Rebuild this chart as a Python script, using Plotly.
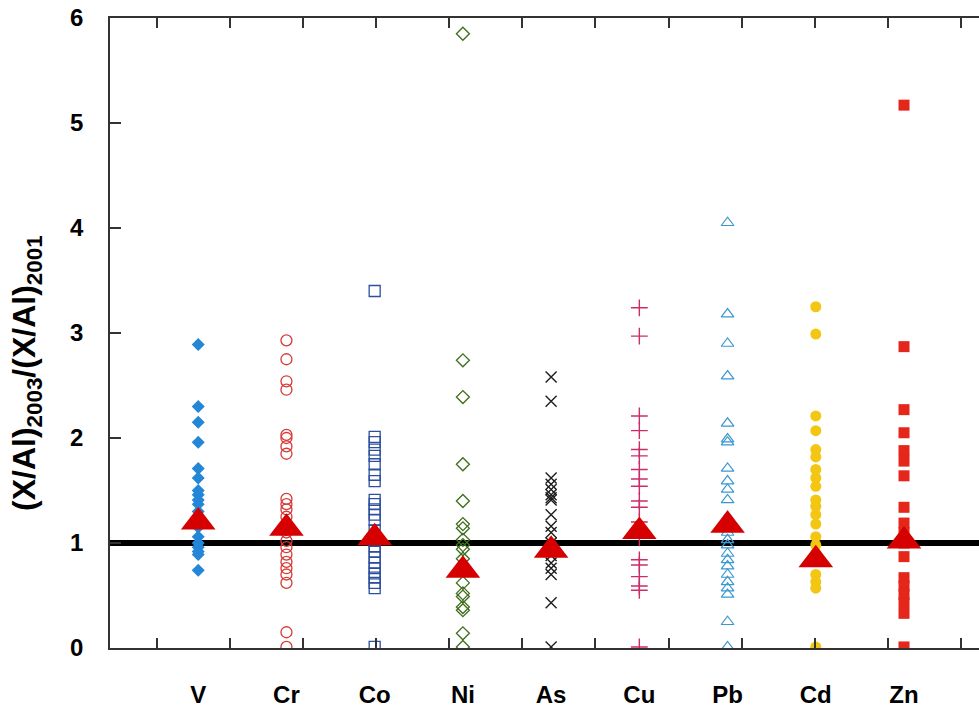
import plotly.graph_objects as go

# ---- data ----
categories = ["V", "Cr", "Co", "Ni", "As", "Cu", "Pb", "Cd", "Zn"]

V = [2.89, 2.30, 2.15, 1.96, 1.71, 1.62, 1.50, 1.46, 1.41, 1.37, 1.30, 1.24, 1.15, 1.06, 1.00, 0.96, 0.92, 0.89, 0.74]
Cr = [2.93, 2.75, 2.54, 2.46, 2.03, 2.00, 1.92, 1.85, 1.42, 1.37, 1.32, 1.25, 1.10, 1.02, 0.96, 0.89, 0.82, 0.76, 0.70, 0.62, 0.15, 0.01]
Co = [3.40, 2.01, 1.96, 1.89, 1.83, 1.75, 1.65, 1.59, 1.41, 1.37, 1.32, 1.27, 1.22, 1.12, 1.02, 0.97, 0.92, 0.86, 0.81, 0.76, 0.71, 0.67, 0.62, 0.57, 0.01]
Ni = [5.85, 2.74, 2.39, 1.75, 1.40, 1.18, 1.14, 1.03, 0.98, 0.94, 0.85, 0.75, 0.62, 0.52, 0.49, 0.39, 0.36, 0.14, 0.01]
As = [2.58, 2.35, 1.62, 1.56, 1.51, 1.46, 1.43, 1.41, 1.27, 1.16, 1.10, 1.00, 0.88, 0.81, 0.76, 0.70, 0.43, 0.01]
Cu = [3.24, 2.97, 2.21, 2.07, 1.89, 1.83, 1.70, 1.61, 1.54, 1.40, 1.34, 1.20, 1.05, 0.84, 0.79, 0.68, 0.59, 0.55, 0.01]
Pb = [4.05, 3.18, 2.90, 2.59, 2.14, 1.99, 1.96, 1.71, 1.59, 1.51, 1.41, 1.25, 1.10, 1.03, 0.98, 0.90, 0.84, 0.78, 0.70, 0.63, 0.57, 0.51, 0.25, 0.01]
Cd = [3.25, 2.99, 2.21, 2.07, 1.89, 1.82, 1.70, 1.62, 1.54, 1.41, 1.35, 1.27, 1.18, 1.06, 0.98, 0.90, 0.70, 0.63, 0.57, 0.01]
Zn = [5.17, 2.87, 2.27, 2.05, 1.88, 1.78, 1.64, 1.34, 1.19, 1.10, 1.00, 0.87, 0.67, 0.59, 0.51, 0.43, 0.33, 0.01]
mean_ratio = [1.20, 1.14, 1.05, 0.74, 0.93, 1.11, 1.17, 0.84, 1.02]
reference_ratio = 1.0

y_ticks = [0, 1, 2, 3, 4, 5, 6]
y_title = "(X/Al)<sub>2003</sub>/(X/Al)<sub>2001</sub>"

series = [V, Cr, Co, Ni, As, Cu, Pb, Cd, Zn]

# ---- styles ----
styles = [
    dict(symbol="diamond", color="#2486d6", size=10, lw=0),
    dict(symbol="circle-open", color="#d83a36", size=11, lw=1.3),
    dict(symbol="square-open", color="#2d4f9e", size=11, lw=1.3),
    dict(symbol="diamond-open", color="#3f6e1c", size=10, lw=1.3),
    dict(symbol="x-thin-open", color="#1e1e1e", size=11, lw=1.4),
    dict(symbol="cross-thin-open", color="#cc2c68", size=12, lw=1.4),
    dict(symbol="triangle-up-open", color="#3b98d0", size=11, lw=1.2),
    dict(symbol="circle", color="#f3c613", size=11, lw=0),
    dict(symbol="square", color="#e5261b", size=11, lw=0),
]

fig = go.Figure()

x_range = [0, 9.85]

for i, (vals, st) in enumerate(zip(series, styles)):
    fig.add_trace(go.Scatter(
        x=[i + 1] * len(vals), y=vals, mode="markers",
        name=categories[i], showlegend=False,
        marker=dict(symbol=st["symbol"], color=st["color"], size=st["size"],
                    line=dict(width=st["lw"], color=st["color"])),
    ))

fig.add_trace(go.Scatter(
    x=list(range(1, len(categories) + 1)), y=mean_ratio, mode="markers",
    showlegend=False, name="mean",
    marker=dict(symbol="triangle-up", color="#d60000", size=30, line=dict(width=0)),
))

# invisible trace to activate the category-label axis
fig.add_trace(go.Scatter(x=[1], y=[0], xaxis="x2", mode="markers",
                         marker=dict(opacity=0), showlegend=False, hoverinfo="skip"))

fig.add_shape(type="line", xref="paper", x0=0, x1=1, yref="y",
              y0=reference_ratio, y1=reference_ratio,
              line=dict(color="black", width=6), layer="below")

font_family = "Liberation Sans, Arial, sans-serif"
tick_font = dict(family=font_family, size=24, color="black", weight="bold")

fig.add_annotation(
    text=y_title, xref="paper", yref="paper", x=0, y=0.4365,
    xanchor="center", yanchor="middle", xshift=-84, textangle=-90,
    showarrow=False,
    font=dict(family=font_family, size=32, color="black", weight="bold"),
)

fig.update_layout(
    width=979, height=707,
    margin=dict(l=110, r=0, t=18, b=59, autoexpand=False),
    paper_bgcolor="white", plot_bgcolor="white",
    xaxis=dict(
        range=x_range, showgrid=False, zeroline=False,
        showline=True, linecolor="#333", linewidth=1.5, mirror="ticks",
        ticks="inside", ticklen=10, tickwidth=1.5, tickcolor="#333",
        tickvals=[0.533 + 0.8283 * k for k in range(12)],
        showticklabels=False,
    ),
    xaxis2=dict(
        range=x_range, overlaying="x", anchor="y", side="bottom",
        showgrid=False, zeroline=False, showline=False, ticks="",
        tickvals=list(range(1, len(categories) + 1)), ticktext=categories,
        tickfont=tick_font, ticklabelstandoff=30, ticklabeloverflow="allow",
    ),
    yaxis=dict(
        range=[0, 6], showgrid=False, zeroline=False,
        showline=True, linecolor="#333", linewidth=1.5,
        ticks="inside", ticklen=11, tickwidth=1.5, tickcolor="#333",
        tickvals=y_ticks, tickfont=tick_font, ticklabelstandoff=20,
        ticklabeloverflow="allow",
    ),
)

fig.write_html(
    "out.html",
    config={"displayModeBar": False},
    post_script="document.body.style.margin='0';document.body.style.overflow='hidden';",
)
